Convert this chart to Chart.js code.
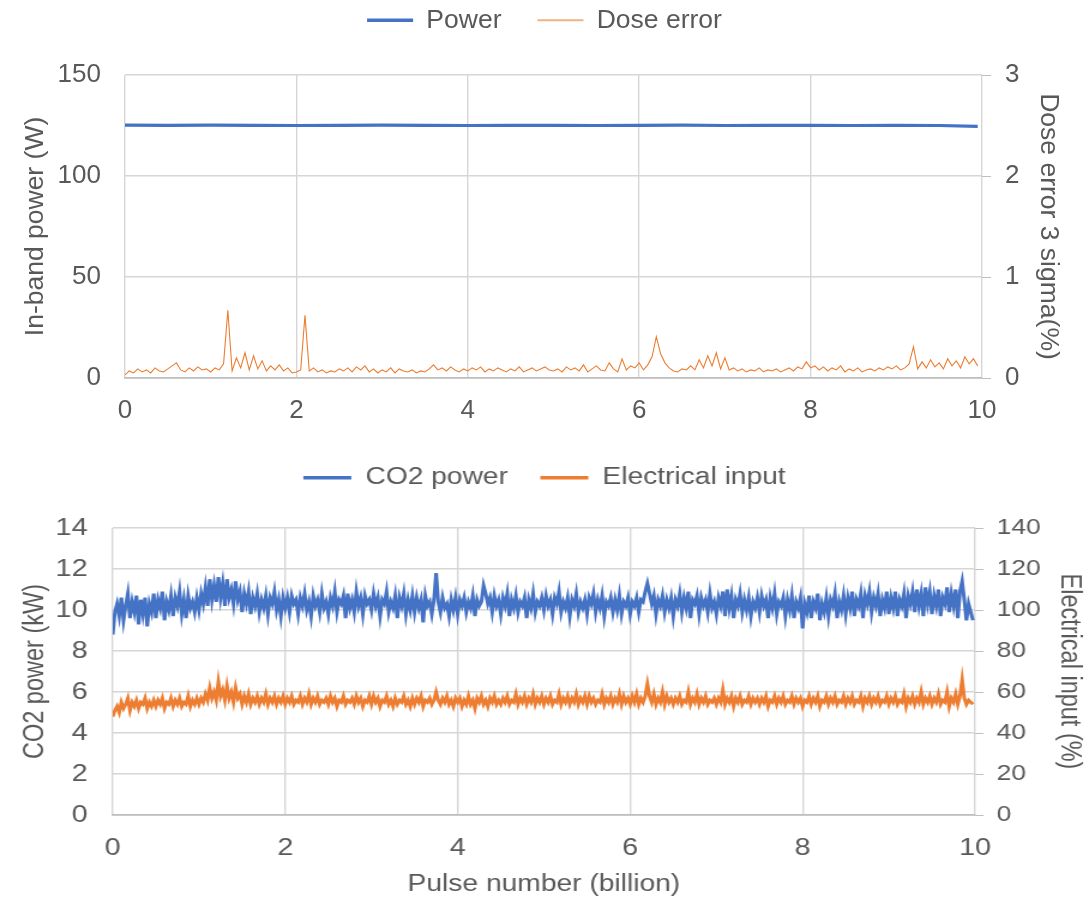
<!DOCTYPE html>
<html><head><meta charset="utf-8">
<script src="https://cdn.jsdelivr.net/npm/chart.js@4.4.1/dist/chart.umd.min.js"></script>
<style>
html,body{margin:0;padding:0;background:#fff;width:1089px;height:899px;overflow:hidden}
#w1{position:absolute;left:0;top:0;width:1089px;height:445px;overflow:hidden;background:#fff}
#w2{position:absolute;left:0;top:445px;width:1089px;height:454px;overflow:hidden;background:#fff}
canvas{display:block}
#c2{transform-origin:0 0;transform:scaleX(1.19934)}
</style></head><body>
<div id="w1"><canvas id="c1" width="1089" height="473" style="width:1089px;height:473px"></canvas></div>
<div id="w2"><canvas id="c2" width="908" height="454" style="width:908px;height:454px"></canvas></div>
<script>
// ---- data ----
const xTicks = [0, 2, 4, 6, 8, 10];
const doseStep = 0.05;   // billion pulses per dose-error sample
const co2Step = 0.025;   // billion pulses per CO2 / electrical sample

const powerX = [0,0.5,1,1.5,2,2.5,3,3.5,4,4.5,5,5.5,6,6.5,7,7.5,8,8.5,9,9.5,9.95];
const powerW = [125.2,125.1,125.2,125.1,125.0,125.1,125.2,125.1,125.0,125.1,125.1,125.0,125.1,125.2,125.0,125.1,125.1,125.0,125.1,125.0,124.6];

const doseError = [
0.03,0.07,0.05,0.09,0.06,0.08,0.05,0.10,0.07,0.06,0.09,0.12,0.15,0.08,0.06,0.10,0.07,0.11,0.08,0.09,
0.06,0.10,0.08,0.14,0.67,0.07,0.20,0.10,0.25,0.08,0.22,0.09,0.17,0.07,0.12,0.08,0.13,0.07,0.10,0.05,
0.06,0.08,0.62,0.07,0.10,0.06,0.08,0.05,0.07,0.06,0.09,0.07,0.10,0.06,0.11,0.08,0.12,0.06,0.09,0.05,
0.08,0.06,0.10,0.05,0.09,0.07,0.06,0.08,0.05,0.07,0.06,0.09,0.13,0.08,0.10,0.07,0.11,0.08,0.06,0.09,
0.07,0.10,0.08,0.11,0.06,0.09,0.07,0.10,0.08,0.06,0.09,0.07,0.11,0.06,0.08,0.10,0.07,0.09,0.11,0.08,
0.07,0.09,0.06,0.11,0.08,0.10,0.07,0.13,0.06,0.09,0.12,0.08,0.07,0.15,0.09,0.06,0.19,0.08,0.12,0.10,
0.15,0.08,0.13,0.21,0.41,0.24,0.15,0.10,0.07,0.06,0.09,0.08,0.12,0.08,0.18,0.10,0.22,0.12,0.25,0.09,
0.20,0.08,0.10,0.07,0.09,0.06,0.08,0.07,0.10,0.06,0.08,0.07,0.09,0.06,0.08,0.10,0.07,0.11,0.09,0.16,
0.10,0.12,0.08,0.11,0.07,0.10,0.08,0.12,0.06,0.09,0.07,0.10,0.06,0.08,0.09,0.07,0.10,0.08,0.11,0.09,
0.12,0.08,0.10,0.14,0.31,0.09,0.16,0.10,0.18,0.11,0.15,0.09,0.19,0.12,0.17,0.10,0.21,0.14,0.19,0.12
];

const co2PowerKW = [
8.8,9.9,10.3,9.7,10.6,9.5,10.2,10.8,9.6,10.4,9.9,10.7,9.3,10.5,9.8,10.6,9.2,10.3,9.9,10.8,
9.6,10.5,10.1,10.9,9.5,10.4,10.0,10.7,9.7,10.6,10.2,10.9,9.8,10.5,9.6,10.7,10.1,10.4,9.9,10.6,
10.0,10.8,10.3,11.1,10.2,11.5,10.5,11.2,10.4,11.6,10.6,11.3,10.2,11.5,10.6,11.0,10.3,11.4,10.5,10.9,
9.9,10.8,10.3,10.9,9.8,10.6,10.2,10.8,9.9,10.5,10.1,10.7,9.8,10.6,10.3,10.9,10.0,10.5,9.7,10.6,
10.1,10.6,9.9,10.7,10.3,10.5,9.8,10.6,10.2,10.8,10.0,10.4,9.7,10.7,10.2,10.5,9.9,10.8,10.1,10.4,
9.8,10.6,10.2,10.9,9.9,10.5,10.3,10.7,9.6,10.8,10.1,10.5,9.9,10.9,10.2,10.6,9.8,10.7,10.3,10.5,
10.0,10.8,10.2,10.6,9.7,10.5,10.3,10.9,9.9,10.4,10.1,10.7,9.6,10.6,10.2,10.8,9.8,10.5,10.0,10.7,
9.9,10.6,10.1,10.5,9.4,10.7,10.2,10.4,9.8,10.5,11.8,10.4,9.9,10.6,10.1,10.3,9.7,10.5,10.0,10.6,
9.8,10.5,10.2,10.6,9.9,10.4,10.1,10.7,9.7,10.5,10.2,10.4,11.2,10.8,10.3,10.6,9.9,10.7,10.2,10.5,
9.8,10.6,10.2,10.8,9.7,10.5,10.1,10.7,9.9,10.4,10.2,10.6,9.6,10.5,10.1,10.8,9.9,10.4,10.2,10.6,
10.0,10.7,10.2,10.5,9.8,10.6,10.3,10.9,9.9,10.4,10.1,10.6,9.7,10.5,10.2,10.8,9.9,10.4,10.1,10.5,
9.8,10.6,10.3,10.8,9.9,10.5,10.1,10.7,9.7,10.4,10.2,10.6,9.9,10.5,10.0,10.7,9.8,10.4,10.2,10.6,
9.8,10.4,10.2,10.6,9.9,10.5,10.4,10.9,11.3,10.8,10.3,10.7,9.8,10.5,10.2,10.7,9.9,10.5,10.1,10.6,
9.7,10.5,10.2,10.8,9.9,10.6,10.1,10.9,9.6,10.5,10.3,10.7,9.8,10.6,10.2,10.5,9.9,10.8,10.1,10.4,
9.8,10.6,10.2,10.9,9.7,11.0,10.1,10.7,9.6,10.5,10.2,10.8,9.9,10.5,10.0,10.6,9.7,10.4,10.1,10.6,
9.9,10.7,10.2,10.5,9.6,10.6,10.1,10.8,9.8,10.4,10.2,10.6,9.7,10.5,10.0,10.7,9.6,10.4,10.1,10.6,
9.1,10.3,9.9,10.7,9.6,10.4,10.1,10.8,9.5,10.3,9.9,10.6,9.7,10.5,10.2,10.8,9.6,10.4,10.0,10.7,
9.8,10.6,10.1,10.9,9.7,10.5,10.2,10.8,9.6,10.7,10.3,10.9,9.9,10.6,10.2,10.8,9.7,10.5,10.1,10.9,
9.8,10.6,10.1,10.9,9.7,10.5,10.2,10.8,9.6,10.7,10.3,10.9,9.9,11.0,10.2,10.8,9.7,11.1,10.3,10.9,
9.8,10.7,10.2,11.0,9.7,10.6,10.3,11.1,9.9,10.8,10.2,11.0,9.6,10.9,11.4,10.5,9.5,10.3,9.9,9.5
];

const electricalInputPct = [
48,51,53,50,55,52,54,57,51,55,53,56,52,55,54,57,52,55,53,56,
53,56,54,57,52,55,54,57,53,56,54,57,53,55,54,58,53,56,54,57,
54,57,55,59,56,62,57,60,56,65,58,61,56,63,57,60,55,62,57,59,
54,58,55,59,54,57,55,58,54,57,55,59,54,57,55,58,54,57,55,58,
54,57,55,58,54,56,55,58,54,57,55,59,54,57,55,58,54,56,55,57,
54,58,55,57,53,56,55,58,54,56,55,57,54,58,55,57,53,56,55,58,
54,58,55,57,53,56,55,58,54,56,53,57,54,56,55,58,54,56,53,57,
54,57,55,58,53,56,55,57,54,56,60,56,54,57,55,58,54,56,53,57,
55,57,53,56,54,58,54,56,52,57,55,58,54,56,53,57,55,58,54,56,
54,57,55,58,54,56,55,59,54,57,55,58,54,57,55,59,54,57,55,58,
54,57,55,58,54,56,55,59,54,57,55,58,54,57,55,59,54,57,55,58,
54,58,55,57,54,56,55,59,54,57,55,58,54,57,55,59,54,58,55,57,
54,58,55,59,54,57,55,58,64,58,55,59,54,57,55,60,54,58,55,57,
54,57,55,58,54,56,55,60,54,57,55,59,54,57,55,58,54,56,55,57,
54,57,55,61,54,57,55,58,53,57,55,58,54,56,55,58,54,57,55,57,
54,57,55,58,53,56,55,58,54,57,55,58,54,56,55,58,54,57,55,57,
53,56,55,58,54,57,55,58,53,56,55,58,54,57,55,58,54,56,55,58,
54,57,55,58,54,56,55,58,53,57,55,58,54,57,55,58,54,56,55,58,
54,57,55,58,54,56,55,59,53,57,55,58,54,57,55,60,54,57,55,58,
54,57,55,59,54,56,55,60,53,57,55,59,54,58,66,57,54,56,55,54
];

// ---- styling ----
const FONT = "'Liberation Sans', Arial, Helvetica, sans-serif";
const TXT = '#595959';
const GRID = '#d6d6d6';
const AXIS = '#bfbfbf';
const BLUE = '#4472C4';
const ORANGE = '#ED7D31';
const LIGHT_ORANGE = '#F4B183';

const doseX = doseError.map((_, i) => +(i * doseStep).toFixed(3));
const co2X = co2PowerKW.map((_, i) => +(i * co2Step).toFixed(3));
const xy = (xs, ys) => ys.map((v, i) => ({x: xs[i], y: v}));

function legendTweak(height, dy) {
  return {
    id: 'legendTweak',
    afterInit(chart) {
      const lg = chart.legend;
      const f = lg.fit.bind(lg);
      lg.fit = function () { f(); this.height = height; };
      const d = lg.draw.bind(lg);
      lg.draw = function () { const c = this.ctx; c.save(); c.translate(0, dy); d(); c.restore(); };
    }
  };
}

function xScale(cfg) {
  return {
    type: 'linear', min: 0, max: 10,
    afterBuildTicks: s => { s.ticks = xTicks.map(v => ({value: v})); },
    ticks: {color: TXT, font: {family: FONT, size: cfg.tick}, padding: cfg.tickPad, maxRotation: 0},
    grid: {color: GRID, lineWidth: 1.4, drawTicks: false},
    border: {display: true, color: AXIS, width: 1.8},
    title: {display: true, text: 'Pulse number (billion)', color: TXT, font: {family: FONT, size: cfg.title}, padding: {top: 0, bottom: cfg.titleBottom}},
    afterFit: s => { s.height = cfg.height; }
  };
}

function legendOpts(size, boxW, pad, thinColor) {
  return {
    display: true, position: 'top',
    labels: {
      color: TXT, font: {family: FONT, size: size}, usePointStyle: true, pointStyle: 'line',
      pointStyleWidth: boxW, boxHeight: 20, padding: pad,
      generateLabels: chart => {
        const items = Chart.defaults.plugins.legend.labels.generateLabels(chart);
        items.forEach(it => {
          const ds = chart.data.datasets[it.datasetIndex];
          it.pointStyle = 'line';
          if (ds.borderWidth < 2) { it.strokeStyle = thinColor; it.lineWidth = 2; }
          else { it.lineWidth = 3.5; }
        });
        return items;
      }
    }
  };
}

// ---- top chart ----
new Chart(document.getElementById('c1'), {
  type: 'line',
  data: {
    datasets: [
      {label: 'Power', data: xy(powerX, powerW), yAxisID: 'y', borderColor: BLUE, backgroundColor: BLUE, borderWidth: 3.2, pointRadius: 0, tension: 0},
      {label: 'Dose error', data: xy(doseX, doseError), yAxisID: 'y1', borderColor: ORANGE, backgroundColor: ORANGE, borderWidth: 1.1, pointRadius: 0, tension: 0}
    ]
  },
  options: {
    responsive: false, animation: false, devicePixelRatio: 1,
    layout: {padding: 0},
    plugins: {legend: legendOpts(26.5, 46, 36, LIGHT_ORANGE), tooltip: {enabled: false}},
    scales: {
      x: xScale({tick: 26, tickPad: 17, title: 26.5, titleBottom: 0, height: 95}),
      y: {
        position: 'left', min: 0, max: 150,
        ticks: {stepSize: 50, color: TXT, font: {family: FONT, size: 26}, padding: 24},
        grid: {color: GRID, lineWidth: 1.4, drawTicks: false},
        border: {display: false},
        title: {display: true, text: 'In-band power (W)', color: TXT, font: {family: FONT, size: 26.5}, padding: {top: 20, bottom: 0}},
        afterFit: s => { s.width = 125; }
      },
      y1: {
        position: 'right', min: 0, max: 3,
        ticks: {stepSize: 1, color: TXT, font: {family: FONT, size: 26}, padding: 14},
        grid: {drawOnChartArea: false, drawTicks: true, tickLength: 9, color: AXIS},
        border: {display: false},
        title: {display: true, text: 'Dose error 3 sigma(%)', color: TXT, font: {family: FONT, size: 26.5}, padding: {top: 25, bottom: 0}},
        afterFit: s => { s.width = 107; }
      }
    }
  },
  plugins: [legendTweak(75, -29)]
});

// ---- bottom chart (drawn 908 wide, shown stretched to 1089) ----
new Chart(document.getElementById('c2'), {
  type: 'line',
  data: {
    datasets: [
      {label: 'CO2 power', data: xy(co2X, co2PowerKW), yAxisID: 'y', borderColor: BLUE, backgroundColor: BLUE, borderWidth: 3, pointRadius: 0, tension: 0},
      {label: 'Electrical input', data: xy(co2X, electricalInputPct), yAxisID: 'y1', borderColor: ORANGE, backgroundColor: ORANGE, borderWidth: 3, pointRadius: 0, tension: 0}
    ]
  },
  options: {
    responsive: false, animation: false, devicePixelRatio: 1,
    layout: {padding: 0},
    plugins: {legend: legendOpts(23.5, 40, 27, LIGHT_ORANGE), tooltip: {enabled: false}},
    scales: {
      x: xScale({tick: 24, tickPad: 19, title: 23.5, titleBottom: 0, height: 84}),
      y: {
        position: 'left', min: 0, max: 14,
        ticks: {stepSize: 2, color: TXT, font: {family: FONT, size: 24}, padding: 21},
        grid: {color: GRID, lineWidth: 1.4, drawTicks: false},
        border: {display: false},
        title: {display: true, text: 'CO2 power (kW)', color: TXT, font: {family: FONT, size: 23.5}, padding: {top: 15, bottom: 0}},
        afterFit: s => { s.width = 94; }
      },
      y1: {
        position: 'right', min: 0, max: 140,
        ticks: {stepSize: 20, color: TXT, font: {family: FONT, size: 22}, padding: 11},
        grid: {drawOnChartArea: false, drawTicks: true, tickLength: 7, color: AXIS},
        border: {display: false},
        title: {display: true, text: 'Electrical input (%)', color: TXT, font: {family: FONT, size: 23.5}, padding: {top: 2, bottom: 0}},
        afterFit: s => { s.width = 95; }
      }
    }
  },
  plugins: [legendTweak(83, -6)]
});
</script>
</body></html>
